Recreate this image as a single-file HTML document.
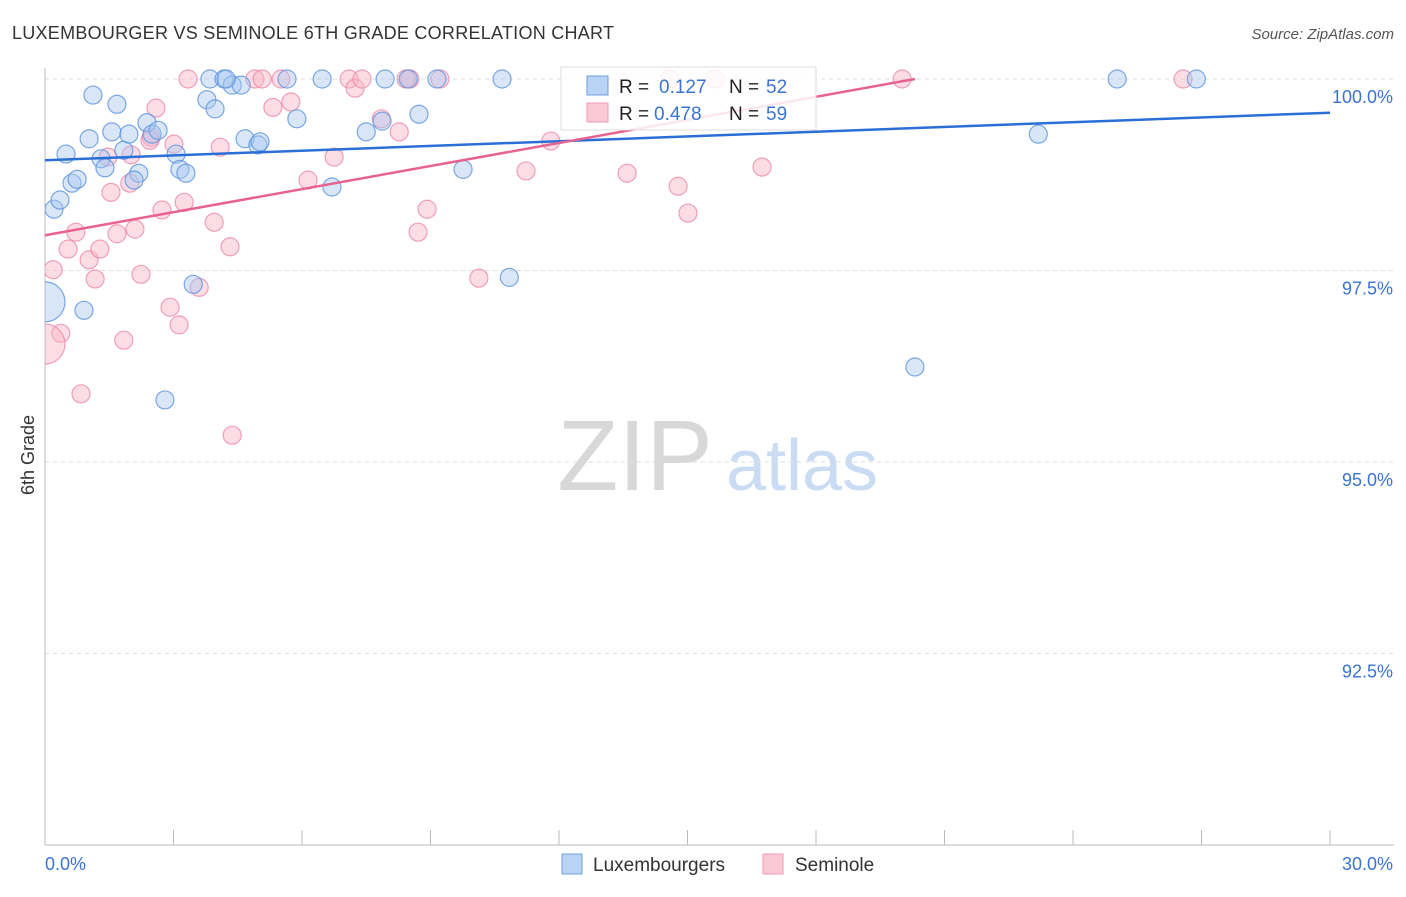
<!DOCTYPE html>
<html><head><meta charset="utf-8"><style>
body{margin:0;background:#fff;font-family:"Liberation Sans",sans-serif;}
svg text{font-family:"Liberation Sans",sans-serif;}
</style></head><body>
<svg id="chart" width="1406" height="892" xmlns="http://www.w3.org/2000/svg">
<defs><clipPath id="plotclip"><rect x="45" y="50" width="1360" height="795"/></clipPath></defs>
<text x="12" y="39" font-size="18" fill="#333" textLength="602">LUXEMBOURGER VS SEMINOLE 6TH GRADE CORRELATION CHART</text>
<text x="1394" y="39" font-size="15" fill="#555" text-anchor="end" font-style="italic">Source: ZipAtlas.com</text>
<text transform="translate(34,455) rotate(-90)" font-size="18" fill="#333" text-anchor="middle">6th Grade</text>
<g>
<text x="635" y="490" font-size="100" fill="#d8d8d8" text-anchor="middle" font-family="Liberation Serif,serif">ZIP</text>
<text x="802" y="490" font-size="72" fill="#c9dcf4" text-anchor="middle">atlas</text>
</g>
<g id="grid"></g><g id="axes"></g><g id="pts" clip-path="url(#plotclip)"></g><g id="trend"></g>
<g>
<rect x="561" y="67" width="255" height="63" fill="#fff" fill-opacity="0.85" stroke="#ddd"/>
<rect x="587" y="76" width="21" height="19" fill="#b8d3f4" stroke="#6c9de0"/>
<rect x="587" y="103" width="21" height="19" fill="#fbc8d6" stroke="#ef9ab4"/>
<text x="619" y="93" font-size="19" fill="#222">R = </text><text x="659" y="93" font-size="19" fill="#3b74d0">0.127</text>
<text x="729" y="93" font-size="19" fill="#222">N = </text><text x="766" y="93" font-size="19" fill="#3b74d0">52</text>
<text x="619" y="120" font-size="19" fill="#222">R = </text><text x="654" y="120" font-size="19" fill="#3b74d0">0.478</text>
<text x="729" y="120" font-size="19" fill="#222">N = </text><text x="766" y="120" font-size="19" fill="#3b74d0">59</text>
</g>
<g>
<rect x="562" y="854" width="20" height="20" fill="#b8d3f4" stroke="#6c9de0"/>
<text x="593" y="871" font-size="19" fill="#333">Luxembourgers</text>
<rect x="763" y="854" width="20" height="20" fill="#fbc8d6" stroke="#ef9ab4"/>
<text x="795" y="871" font-size="19" fill="#333">Seminole</text>
</g>
</svg>
<script>
const blueX=[1.12,1.68,0.49,0.21,0.35,0.63,0.75,1.03,1.31,1.40,1.56,1.84,1.96,2.19,2.08,2.38,2.50,2.64,3.06,3.15,3.29,3.46,0.91,2.80,3.78,3.97,3.85,4.18,4.37,4.58,4.67,4.97,5.02,5.65,5.88,6.47,6.70,7.50,7.94,8.48,8.73,9.15,9.76,10.67,10.84,20.31,23.19,25.03,26.88,4.23,7.87,0.0];
const blueY=[99.79,99.67,99.02,98.30,98.42,98.64,98.69,99.22,98.96,98.84,99.31,99.07,99.28,98.77,98.68,99.43,99.28,99.33,99.02,98.82,98.77,97.32,96.98,95.81,99.73,99.61,100,100,99.92,99.92,99.22,99.14,99.18,100,99.48,100,98.59,99.31,100,100,99.54,100,98.82,100,97.41,96.24,99.28,100,100,100,99.45,97.09];
const pinkX=[3.34,4.90,5.07,5.51,7.10,7.24,8.52,9.22,2.59,5.32,5.74,3.01,4.09,2.48,1.47,1.98,1.54,2.73,3.25,3.95,4.32,4.37,0.84,1.84,0.37,0.19,1.17,0.54,1.03,1.28,0.72,1.68,2.10,2.24,2.92,3.13,3.60,7.85,8.27,6.14,6.75,8.71,8.92,10.13,11.23,11.81,13.59,14.78,15.01,16.74,14.59,15.64,20.01,26.57,2.01,2.45,7.40,8.43,0.0];
const pinkY=[100,100,100,100,100,99.88,100,100,99.62,99.63,99.70,99.15,99.11,99.24,98.98,98.64,98.52,98.29,98.39,98.13,97.81,95.35,95.89,96.59,96.68,97.51,97.39,97.78,97.64,97.78,98.00,97.98,98.04,97.45,97.02,96.79,97.28,99.48,99.31,98.68,98.98,98.00,98.30,97.40,98.80,99.19,98.77,98.60,98.25,98.85,100,100,100,100,99.01,99.20,100,100,96.54];
const blueTrend=[[0,98.94],[30,99.56]];
const pinkTrend=[[0,97.96],[20.31,100]];
const yTicks=[100,97.5,95,92.5];
const yTickLabels=["100.0%","97.5%","95.0%","92.5%"];
const xTickLabels=["0.0%","30.0%"];
const NS="http://www.w3.org/2000/svg";
const sx=v=>45+v/30*1285, sy=v=>79+(100-v)/2.5*191.5;
function mk(tag,attrs,parent){const e=document.createElementNS(NS,tag);for(const k in attrs)e.setAttribute(k,attrs[k]);document.getElementById(parent).appendChild(e);return e;}
yTicks.forEach((t,i)=>{
  const l=mk('line',{x1:45,x2:1394,y1:sy(t),y2:sy(t),stroke:'#ddd','stroke-dasharray':'4,4'},'grid');
  
  
  const tx=mk('text',{x:1393,y:sy(t)+24,'font-size':18,fill:'#3b74d0','text-anchor':'end'},'grid');
  tx.textContent=yTickLabels[i];
  
  
});
const ax=mk('line',{x1:45,x2:45,y1:68,y2:845,stroke:'#bbb'},'axes');


const bx=mk('line',{x1:45,x2:1394,y1:845,y2:845,stroke:'#bbb'},'axes');


for(let i=0;i<=10;i++){const t=mk('line',{x1:sx(i*3),x2:sx(i*3),y1:830,y2:845,stroke:'#bbb'},'axes');
  
  }
const xl0=mk('text',{x:45,y:870,'font-size':18,fill:'#3b74d0'},'axes');xl0.textContent=xTickLabels[0];


const xl1=mk('text',{x:1393,y:870,'font-size':18,fill:'#3b74d0','text-anchor':'end'},'axes');xl1.textContent=xTickLabels[1];


function pts(X,Y,fill,stroke,name){X.forEach((x,i)=>{const big=x===0;
  const c=mk('circle',{cx:sx(x),cy:sy(Y[i]),r:big?20:9,fill:fill,'fill-opacity':0.45,stroke:stroke,'stroke-width':1.2,'stroke-opacity':0.8},'pts');
  
  });}
pts(pinkX,pinkY,'#f8b4c8','#ec8aa9','seminole-point');
pts(blueX,blueY,'#a8c8f0','#5b93e0','luxembourger-point');
const bt=mk('line',{x1:sx(blueTrend[0][0]),y1:sy(blueTrend[0][1]),x2:sx(blueTrend[1][0]),y2:sy(blueTrend[1][1]),stroke:'#2a6fd6','stroke-width':2.5},'trend');


const pt=mk('line',{x1:sx(pinkTrend[0][0]),y1:sy(pinkTrend[0][1]),x2:sx(pinkTrend[1][0]),y2:sy(pinkTrend[1][1]),stroke:'#e8628f','stroke-width':2.5},'trend');


</script>
</body></html>
